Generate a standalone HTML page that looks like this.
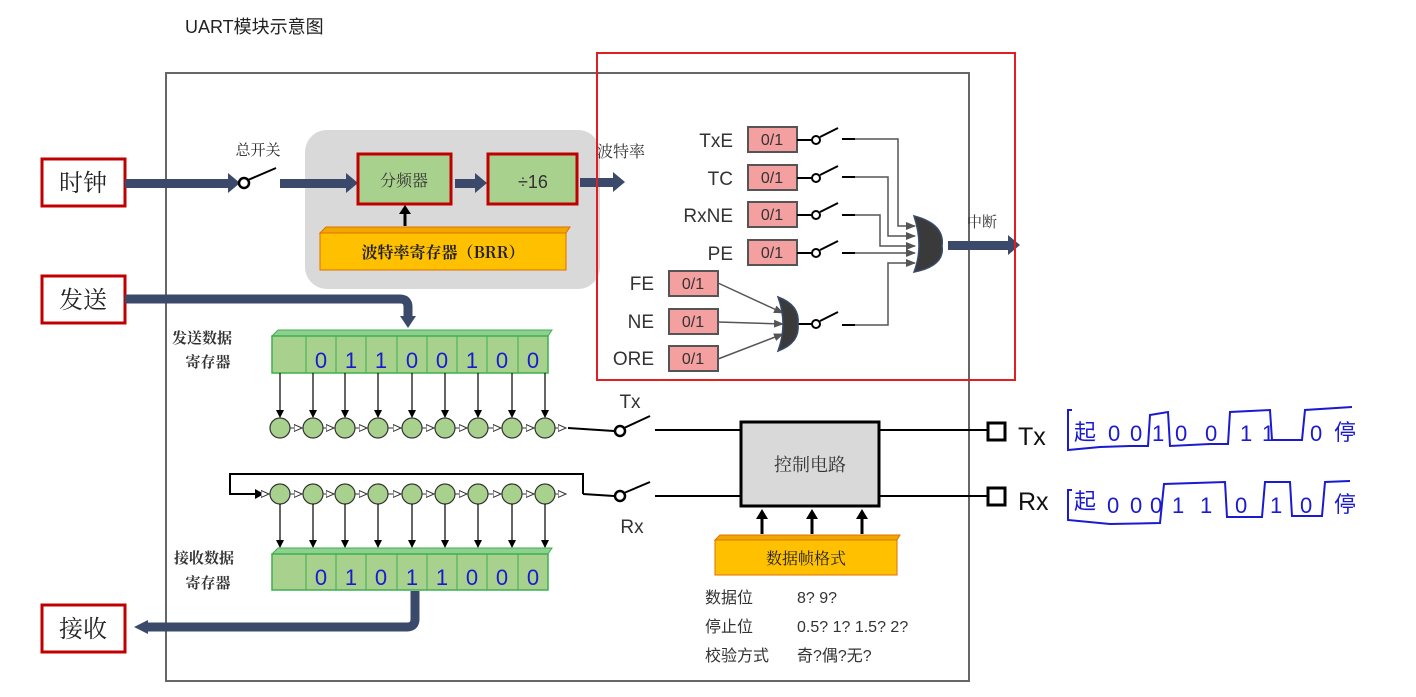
<!DOCTYPE html>
<html><head><meta charset="utf-8"><style>
html,body{margin:0;padding:0;background:#fff;}
svg{display:block;}
text{font-family:"Liberation Sans","Noto Sans CJK SC",sans-serif;}
.cj{font-family:"Noto Serif CJK SC","Noto Sans CJK SC",serif;}
.hw{font-family:"Liberation Sans","Noto Sans CJK SC",sans-serif;fill:#1a1ad0;}
</style></head><body>
<svg width="1416" height="697" viewBox="0 0 1416 697" xmlns="http://www.w3.org/2000/svg">
<defs>
<marker id="ah" markerWidth="8" markerHeight="8" refX="7" refY="4" orient="auto" markerUnits="userSpaceOnUse"><path d="M0,0 L8,4 L0,8 z" fill="#000"/></marker>
<marker id="ag" markerWidth="10" markerHeight="8" refX="9" refY="4" orient="auto" markerUnits="userSpaceOnUse"><path d="M0,0 L10,4 L0,8 z" fill="#555"/></marker>
<marker id="aw" markerWidth="9" markerHeight="9" refX="8" refY="4.5" orient="auto" markerUnits="userSpaceOnUse"><path d="M0,1 L8,4.5 L0,8 z" fill="#fff" stroke="#333" stroke-width="1"/></marker>
</defs>
<text x="185" y="33" font-size="18" fill="#222">UART模块示意图</text>
<rect x="166" y="73" width="803" height="608" fill="none" stroke="#666" stroke-width="2"/>
<rect x="305" y="130" width="295" height="159" rx="22" fill="#d9d9d9"/>

<g stroke="#c00000" stroke-width="3" fill="#fff">
<rect x="42" y="159" width="83" height="47"/><rect x="42" y="276" width="83" height="47"/><rect x="42" y="605" width="83" height="47"/></g>
<g class="cj" font-size="24" fill="#222" text-anchor="middle">
<text x="83" y="191" class="cj">时钟</text><text x="83" y="308" class="cj">发送</text><text x="83" y="637" class="cj">接收</text></g>

<g fill="#3b4a6b">
<rect x="125" y="179" width="105" height="9"/><path d="M228,173 L240,183 L228,193 z"/>
<rect x="280" y="179" width="68" height="9"/><path d="M346,173 L358,183 L346,193 z"/>
<rect x="455" y="179" width="22" height="9"/><path d="M475,173 L487,183 L475,193 z"/>
<rect x="580" y="178" width="35" height="9"/><path d="M613,172 L625,182 L613,192 z"/>
<rect x="948" y="241" width="62" height="9"/><path d="M1008,235 L1020,245 L1008,255 z"/>
</g>
<circle cx="244" cy="183" r="5" fill="#fff" stroke="#000" stroke-width="2.5"/>
<line x1="248" y1="180" x2="276" y2="168" stroke="#000" stroke-width="2"/>
<text x="258" y="155" font-size="15" text-anchor="middle" class="cj" fill="#222">总开关</text>
<rect x="358" y="154" width="93" height="50" fill="#a9d18e" stroke="#c00000" stroke-width="3"/>
<text x="404" y="186" font-size="16" text-anchor="middle" class="cj" fill="#333">分频器</text>
<rect x="488" y="154" width="89" height="50" fill="#a9d18e" stroke="#c00000" stroke-width="3"/>
<text x="533" y="188" font-size="18" text-anchor="middle" fill="#333">÷16</text>
<text x="597" y="157" font-size="16" class="cj" fill="#333">波特率</text>
<path d="M320,233 L326,227 L570,227 L566,233 z" fill="#f0a800" stroke="#e07000"/>
<rect x="320" y="233" width="246" height="37" fill="#ffc000" stroke="#e07000"/>
<text x="443" y="258" font-size="16" text-anchor="middle" font-weight="bold" fill="#222" class="cj">波特率寄存器（BRR）</text>
<line x1="405" y1="226" x2="405" y2="213" stroke="#000" stroke-width="3"/><path d="M399,214 L405,205 L411,214 z"/>

<path d="M125,299 L400,299 Q408,299 408,307 L408,318" fill="none" stroke="#3b4a6b" stroke-width="9"/>
<path d="M400,316 L416,316 L408,328 z" fill="#3b4a6b"/>

<path d="M272,336 L278,330 L552,330 L548,336 z" fill="#8fd08f" stroke="#3cb050"/>
<rect x="272" y="336" width="276" height="37" fill="#a9d18e" stroke="#3cb050" stroke-width="1.5"/>
<g stroke="#3cb050"><line x1="306" y1="336" x2="306" y2="373"/><line x1="336" y1="336" x2="336" y2="373"/><line x1="366" y1="336" x2="366" y2="373"/><line x1="397" y1="336" x2="397" y2="373"/><line x1="427" y1="336" x2="427" y2="373"/><line x1="457" y1="336" x2="457" y2="373"/><line x1="487" y1="336" x2="487" y2="373"/><line x1="518" y1="336" x2="518" y2="373"/></g>
<g class="hw" font-size="22" text-anchor="middle"><text x="321" y="368">0</text><text x="351" y="368">1</text><text x="381" y="368">1</text><text x="412" y="368">0</text><text x="442" y="368">0</text><text x="472" y="368">1</text><text x="502" y="368">0</text><text x="533" y="368">0</text></g>
<text x="202" y="343" font-size="15" text-anchor="middle" class="cj" font-weight="bold" fill="#333">发送数据</text>
<text x="208" y="367" font-size="15" text-anchor="middle" class="cj" font-weight="bold" fill="#333">寄存器</text>

<g stroke="#000" stroke-width="1.2" marker-end="url(#ah)">
<line x1="280" y1="373" x2="280" y2="417"/><line x1="313" y1="373" x2="313" y2="417"/><line x1="345" y1="373" x2="345" y2="417"/><line x1="378" y1="373" x2="378" y2="417"/><line x1="412" y1="373" x2="412" y2="417"/><line x1="445" y1="373" x2="445" y2="417"/><line x1="478" y1="373" x2="478" y2="417"/><line x1="512" y1="373" x2="512" y2="417"/><line x1="545" y1="373" x2="545" y2="417"/></g>
<g stroke="#333" stroke-width="1" marker-end="url(#aw)">
<line x1="290" y1="428" x2="302" y2="428"/><line x1="323" y1="428" x2="334" y2="428"/><line x1="355" y1="428" x2="367" y2="428"/><line x1="388" y1="428" x2="401" y2="428"/><line x1="422" y1="428" x2="434" y2="428"/><line x1="455" y1="428" x2="467" y2="428"/><line x1="488" y1="428" x2="501" y2="428"/><line x1="522" y1="428" x2="534" y2="428"/><line x1="555" y1="428" x2="566" y2="428"/></g>
<g fill="#a9d18e" stroke="#333" stroke-width="1.2">
<ellipse cx="280" cy="428" rx="10" ry="10"/><ellipse cx="313" cy="428" rx="10" ry="10"/><ellipse cx="345" cy="428" rx="10" ry="10"/><ellipse cx="378" cy="428" rx="10" ry="10"/><ellipse cx="412" cy="428" rx="10" ry="10"/><ellipse cx="445" cy="428" rx="10" ry="10"/><ellipse cx="478" cy="428" rx="10" ry="10"/><ellipse cx="512" cy="428" rx="10" ry="10"/><ellipse cx="545" cy="428" rx="10" ry="10"/></g>
<line x1="568" y1="428" x2="614" y2="431" stroke="#000" stroke-width="2"/>
<circle cx="620" cy="431" r="5" fill="#fff" stroke="#000" stroke-width="2.5"/>
<line x1="624" y1="428" x2="650" y2="416" stroke="#000" stroke-width="2"/>
<text x="630" y="408" font-size="19" text-anchor="middle" fill="#333">Tx</text>
<line x1="655" y1="430" x2="740" y2="430" stroke="#000" stroke-width="2"/>

<path d="M583,494 L583,474 L230,474 L230,494 L262,494" fill="none" stroke="#000" stroke-width="2"/>
<path d="M255,489 L264,494 L255,499 z"/>
<line x1="583" y1="494" x2="614" y2="496" stroke="#000" stroke-width="2"/>
<g stroke="#333" stroke-width="1" marker-end="url(#aw)">
<line x1="262" y1="494" x2="269" y2="494"/><line x1="290" y1="494" x2="302" y2="494"/><line x1="323" y1="494" x2="334" y2="494"/><line x1="355" y1="494" x2="367" y2="494"/><line x1="388" y1="494" x2="401" y2="494"/><line x1="422" y1="494" x2="434" y2="494"/><line x1="455" y1="494" x2="467" y2="494"/><line x1="488" y1="494" x2="501" y2="494"/><line x1="522" y1="494" x2="534" y2="494"/><line x1="555" y1="494" x2="566" y2="494"/></g>
<g fill="#a9d18e" stroke="#333" stroke-width="1.2">
<ellipse cx="280" cy="494" rx="10" ry="10"/><ellipse cx="313" cy="494" rx="10" ry="10"/><ellipse cx="345" cy="494" rx="10" ry="10"/><ellipse cx="378" cy="494" rx="10" ry="10"/><ellipse cx="412" cy="494" rx="10" ry="10"/><ellipse cx="445" cy="494" rx="10" ry="10"/><ellipse cx="478" cy="494" rx="10" ry="10"/><ellipse cx="512" cy="494" rx="10" ry="10"/><ellipse cx="545" cy="494" rx="10" ry="10"/></g>
<g stroke="#000" stroke-width="1.2" marker-end="url(#ah)">
<line x1="280" y1="504" x2="280" y2="547"/><line x1="313" y1="504" x2="313" y2="547"/><line x1="345" y1="504" x2="345" y2="547"/><line x1="378" y1="504" x2="378" y2="547"/><line x1="412" y1="504" x2="412" y2="547"/><line x1="445" y1="504" x2="445" y2="547"/><line x1="478" y1="504" x2="478" y2="547"/><line x1="512" y1="504" x2="512" y2="547"/><line x1="545" y1="504" x2="545" y2="547"/></g>
<circle cx="620" cy="496" r="5" fill="#fff" stroke="#000" stroke-width="2.5"/>
<line x1="624" y1="493" x2="650" y2="482" stroke="#000" stroke-width="2"/>
<text x="632" y="533" font-size="19" text-anchor="middle" fill="#333">Rx</text>
<line x1="655" y1="496" x2="740" y2="496" stroke="#000" stroke-width="2"/>

<path d="M272,554 L278,548 L552,548 L548,554 z" fill="#8fd08f" stroke="#3cb050"/>
<rect x="272" y="554" width="276" height="36" fill="#a9d18e" stroke="#3cb050" stroke-width="1.5"/>
<g stroke="#3cb050"><line x1="306" y1="554" x2="306" y2="590"/><line x1="336" y1="554" x2="336" y2="590"/><line x1="366" y1="554" x2="366" y2="590"/><line x1="397" y1="554" x2="397" y2="590"/><line x1="427" y1="554" x2="427" y2="590"/><line x1="457" y1="554" x2="457" y2="590"/><line x1="487" y1="554" x2="487" y2="590"/><line x1="518" y1="554" x2="518" y2="590"/></g>
<g class="hw" font-size="22" text-anchor="middle"><text x="321" y="585">0</text><text x="351" y="585">1</text><text x="381" y="585">0</text><text x="412" y="585">1</text><text x="442" y="585">1</text><text x="472" y="585">0</text><text x="502" y="585">0</text><text x="533" y="585">0</text></g>
<text x="204" y="563" font-size="15" text-anchor="middle" class="cj" font-weight="bold" fill="#333">接收数据</text>
<text x="208" y="588" font-size="15" text-anchor="middle" class="cj" font-weight="bold" fill="#333">寄存器</text>
<path d="M415,591 L415,619 Q415,627 407,627 L145,627" fill="none" stroke="#3b4a6b" stroke-width="9"/>
<path d="M148,620 L134,627 L148,634 z" fill="#3b4a6b"/>

<rect x="741" y="422" width="138" height="84" fill="#d9d9d9" stroke="#000" stroke-width="3"/>
<text x="810" y="471" font-size="18" text-anchor="middle" class="cj" fill="#333">控制电路</text>
<line x1="880" y1="430" x2="987" y2="430" stroke="#000" stroke-width="2"/>
<line x1="880" y1="496" x2="987" y2="496" stroke="#000" stroke-width="2"/>
<rect x="988" y="423" width="17" height="17" fill="#fff" stroke="#000" stroke-width="3"/>
<rect x="988" y="488" width="17" height="17" fill="#fff" stroke="#000" stroke-width="3"/>
<text x="1018" y="445" font-size="25" fill="#111">Tx</text>
<text x="1018" y="510" font-size="25" fill="#111">Rx</text>
<g stroke="#000" stroke-width="3"><line x1="762" y1="534" x2="762" y2="518"/><line x1="812" y1="534" x2="812" y2="518"/><line x1="862" y1="534" x2="862" y2="518"/></g>
<path d="M756,519 L762,509 L768,519 z M806,519 L812,509 L818,519 z M856,519 L862,509 L868,519 z"/>
<path d="M715,540 L720,535 L900,535 L897,540 z" fill="#f0a800" stroke="#e07000"/>
<rect x="715" y="540" width="182" height="35" fill="#ffc000" stroke="#e07000"/>
<text x="806" y="564" font-size="16" text-anchor="middle" class="cj" fill="#222">数据帧格式</text>
<g font-size="16" fill="#333" class="cj">
<text x="705" y="603">数据位</text><text x="797" y="603">8? 9?</text>
<text x="705" y="632">停止位</text><text x="797" y="632">0.5? 1? 1.5? 2?</text>
<text x="705" y="661">校验方式</text><text x="797" y="661">奇?偶?无?</text></g>

<rect x="597" y="53" width="418" height="327" fill="none" stroke="#e02020" stroke-width="2"/>
<g font-size="19" fill="#333" text-anchor="end">
<text x="733" y="147">TxE</text><text x="733" y="185">TC</text><text x="733" y="222">RxNE</text><text x="733" y="260">PE</text>
<text x="654" y="290">FE</text><text x="654" y="328">NE</text><text x="654" y="365">ORE</text></g>
<g fill="#f4a0a0" stroke="#555" stroke-width="2">
<rect x="748" y="127" width="49" height="25"/><rect x="748" y="165" width="49" height="25"/><rect x="748" y="202" width="49" height="25"/><rect x="748" y="240" width="49" height="25"/>
<rect x="669" y="271" width="49" height="25"/><rect x="669" y="309" width="49" height="25"/><rect x="669" y="346" width="49" height="25"/></g>
<g font-family="Liberation Mono,monospace" font-size="16" fill="#333" text-anchor="middle">
<text x="772" y="145">0/1</text><text x="772" y="183">0/1</text><text x="772" y="220">0/1</text><text x="772" y="258">0/1</text>
<text x="693" y="289">0/1</text><text x="693" y="327">0/1</text><text x="693" y="364">0/1</text></g>
<g stroke="#000" stroke-width="2" fill="none">
<line x1="797" y1="140" x2="812" y2="140"/><line x1="797" y1="178" x2="812" y2="178"/><line x1="797" y1="215" x2="812" y2="215"/><line x1="797" y1="253" x2="812" y2="253"/><line x1="797" y1="324" x2="812" y2="324"/>
<line x1="820" y1="137" x2="838" y2="128"/><line x1="820" y1="175" x2="838" y2="166"/><line x1="820" y1="212" x2="838" y2="203"/><line x1="820" y1="250" x2="838" y2="241"/><line x1="820" y1="321" x2="838" y2="312"/>
<line x1="842" y1="139" x2="855" y2="139"/><line x1="842" y1="177" x2="855" y2="177"/><line x1="842" y1="215" x2="855" y2="215"/><line x1="842" y1="253" x2="855" y2="253"/><line x1="842" y1="325" x2="855" y2="325"/></g>
<g fill="#fff" stroke="#000" stroke-width="2"><circle cx="816" cy="140" r="4"/><circle cx="816" cy="178" r="4"/><circle cx="816" cy="215" r="4"/><circle cx="816" cy="253" r="4"/><circle cx="816" cy="324" r="4"/></g>
<g stroke="#555" stroke-width="1.5" fill="none" marker-end="url(#ag)">
<polyline points="855,139 898,139 898,226 915,226"/>
<polyline points="855,177 888,177 888,236 915,236"/>
<polyline points="855,215 880,215 880,246 915,246"/>
<polyline points="855,253 915,253"/>
<polyline points="855,325 888,325 888,263 915,263"/>
<line x1="718" y1="283" x2="783" y2="313"/><line x1="718" y1="322" x2="783" y2="324"/><line x1="718" y1="359" x2="783" y2="334"/></g>
<path d="M914,216 Q945,224 942,246 Q945,266 914,272 Q924,246 914,216 z" fill="#3a3a3a" stroke="#3b4a6b" stroke-width="1.5"/>
<path d="M778,297 Q800,305 798,324 Q800,343 778,351 Q788,324 778,297 z" fill="#3a3a3a" stroke="#3b4a6b" stroke-width="1.5"/>
<text x="982" y="227" font-size="15" text-anchor="middle" class="cj" fill="#333">中断</text>

<g stroke="#1a1ad0" stroke-width="2" fill="none">
<polyline points="1072,410 1068,410 1068,450 1100,447 1130,446 1148,446 1150,415 1168,412 1170,446 1210,444 1228,444 1230,412 1270,410 1272,440 1302,440 1305,410 1352,407"/>
<polyline points="1072,490 1068,490 1068,520 1110,524 1160,523 1164,484 1225,482 1227,517 1262,517 1265,482 1290,482 1292,516 1322,516 1325,482 1350,481"/>
</g>
<g class="hw" font-size="22">
<text x="1074" y="440">起</text><text x="1108" y="441">0</text><text x="1130" y="441">0</text><text x="1152" y="441">1</text><text x="1175" y="441">0</text><text x="1205" y="441">0</text><text x="1240" y="441">1</text><text x="1262" y="441">1</text><text x="1310" y="441">0</text><text x="1334" y="440">停</text>
<text x="1074" y="509">起</text><text x="1107" y="513">0</text><text x="1130" y="513">0</text><text x="1150" y="513">0</text><text x="1172" y="513">1</text><text x="1200" y="513">1</text><text x="1235" y="513">0</text><text x="1270" y="513">1</text><text x="1300" y="513">0</text><text x="1334" y="512">停</text></g>
</svg>
</body></html>
